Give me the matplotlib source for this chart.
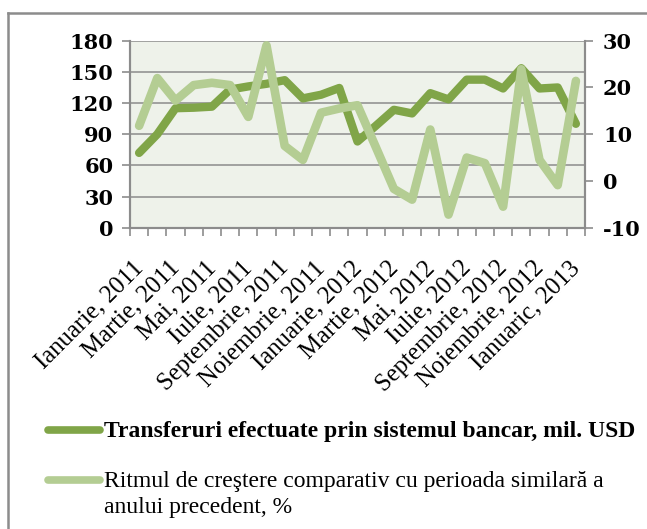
import matplotlib
matplotlib.use("Agg")
import matplotlib.pyplot as plt
from matplotlib.lines import Line2D
from matplotlib.transforms import ScaledTranslation

# Monthly data, January 2011 - January 2013
months = ["Ianuarie", "Februarie", "Martie", "Aprilie", "Mai", "Iunie", "Iulie",
          "August", "Septembrie", "Octombrie", "Noiembrie", "Decembrie"]
categories = [f"{m}, 2011" for m in months] + [f"{m}, 2012" for m in months] + ["Ianuaric, 2013"]

transfers = [72, 90, 115, 115.5, 116.5, 133, 136, 138.5, 142, 124.5, 128, 134.5,
             83, 98, 113.5, 110, 129.5, 123.5, 142.5, 142.5, 134, 153.5, 134, 135, 100]
growth = [11.8, 22, 17.2, 20.5, 21, 20.5, 13.7, 29, 7.5, 4.5, 14.6, 15.5,
          16.2, 7.3, -1.7, -4, 11, -7.2, 5, 3.8, -5.5, 23.9, 4.5, -0.9, 21.4]

left_ticks = [0, 30, 60, 90, 120, 150, 180]
right_ticks = [-10, 0, 10, 20, 30]

label_transfers = "Transferuri efectuate prin sistemul bancar, mil. USD"
label_growth = "Ritmul de creştere comparativ cu perioada similară a\nanului precedent, %"

DARK = "#80A548"
LIGHT = "#B4CD93"
GRID = "#8C8C8C"
BG = "#EEF2EA"

W, H = 647, 529
fig = plt.figure(figsize=(W / 100, H / 100), dpi=100)
fig.patch.set_facecolor("white")

ax = fig.add_axes([130 / W, 1 - 227.7 / H, (585 - 130) / W, (227.7 - 40.7) / H])
ax.set_facecolor(BG)
x = list(range(len(categories)))

ax.set_xlim(-0.5, len(categories) - 0.5)
ax.set_ylim(0, 180)
ax.set_yticks(left_ticks)
ax.yaxis.grid(True, color=GRID, linewidth=1.1)
ax.set_axisbelow(True)
ax.plot(x, transfers, color=DARK, linewidth=6, solid_joinstyle="round",
        solid_capstyle="round", zorder=3)

ax2 = ax.twinx()
ax2.set_ylim(-10, 30)
ax2.set_yticks(right_ticks)
ax2.plot(x, growth, color=LIGHT, linewidth=6.2, solid_joinstyle="round",
         solid_capstyle="round", zorder=3)

num_font = dict(family="DejaVu Serif", weight="bold", size=15)
for a in (ax, ax2):
    a.spines["top"].set_visible(False)
    for side in ("left", "right", "bottom"):
        a.spines[side].set_color(GRID)
        a.spines[side].set_linewidth(1.5)
ax.set_yticklabels([str(v) for v in left_ticks], fontdict=num_font)
ax2.set_yticklabels([str(v) for v in right_ticks], fontdict=num_font)
ax.tick_params(axis="y", length=6, width=1.2, color=GRID, pad=6)
ax2.tick_params(axis="y", length=6, width=1.2, color=GRID, pad=7)

# category ticks sit between the months; labels on every other month
ax.set_xticks([i - 0.5 for i in range(len(categories) + 1)], minor=False)
ax.set_xticklabels([])
ax.tick_params(axis="x", length=6, width=1.2, color=GRID)
ax.set_xticks(x[::2], minor=True)
labels = ax.set_xticklabels(categories[::2], minor=True, rotation=45, ha="right",
                            va="top", rotation_mode="anchor",
                            fontdict=dict(family="Liberation Serif", size=17.8))
ax.tick_params(axis="x", which="minor", length=0, pad=21)
shift = ScaledTranslation(-7 / 100, 0, fig.dpi_scale_trans)
for lab in labels:
    lab.set_transform(lab.get_transform() + shift)

# legend
fig.add_artist(Line2D([48 / W, 100 / W], [1 - 430 / H] * 2, color=DARK, linewidth=5.5,
                      solid_capstyle="round"))
fig.text(104 / W, 1 - 431 / H, label_transfers, family="Liberation Serif",
         weight="bold", size=17, va="center", ha="left")
fig.add_artist(Line2D([48 / W, 100 / W], [1 - 480 / H] * 2, color=LIGHT, linewidth=5.5,
                      solid_capstyle="round"))
fig.text(104 / W, 1 - 471 / H, label_growth, family="Liberation Serif",
         size=17, va="top", ha="left", linespacing=1.3)

# outer frame
fig.add_artist(Line2D([7.5 / W, 7.5 / W], [1 - 12.7 / H, 0], color="#8C8C8C", linewidth=1.8))
fig.add_artist(Line2D([7.5 / W, 1], [1 - 12.7 / H] * 2, color="#8C8C8C", linewidth=1.8))

fig.savefig("out.png", dpi=100)
